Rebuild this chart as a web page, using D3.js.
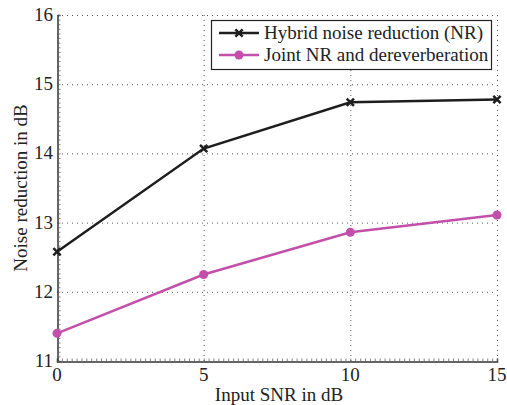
<!DOCTYPE html>
<html>
<head>
<meta charset="UTF-8">
<title>Noise reduction vs input SNR</title>
<script src="https://cdn.jsdelivr.net/npm/d3@7"></script>
<style>
* { margin: 0; padding: 0; }
body { background: #fff; }
#chart { display: block; }
text { font-family: "Liberation Serif", "DejaVu Serif", serif; fill: #222; }
</style>
</head>
<body>
<svg id="chart"></svg>
<script>
// values
const snr = [0, 5, 10, 15];
const hybridNR = [12.58, 14.07, 14.74, 14.78];
const jointNR = [11.40, 12.25, 12.86, 13.11];
const xTicks = [0, 5, 10, 15];
const yTicks = [11, 12, 13, 14, 15, 16];
const seriesNames = ["Hybrid noise reduction (NR)", "Joint NR and dereverberation"];
const seriesColors = ["#1e1e1e", "#c250aa"];

(function() {
    const width = 507, height = 405;
    const m = { left: 57, right: 10, top: 15, bottom: 44 };

    const svg = d3.select("#chart").attr("width", width).attr("height", height);

    const x = d3.scaleLinear().domain([0, 15]).range([m.left, width - m.right]);
    const y = d3.scaleLinear().domain([11, 16]).range([height - m.bottom, m.top]);

    // dotted grid
    const grid = svg.append("g")
        .style("stroke", "#555").style("stroke-width", 1).style("stroke-dasharray", "1,4");
    grid.selectAll(".gx").data(xTicks.filter(d => d > 0)).enter().append("line")
        .attr("x1", d => x(d) + 0.5).attr("x2", d => x(d) + 0.5)
        .attr("y1", y(16)).attr("y2", y(11));
    grid.selectAll(".gy").data(yTicks.filter(d => d > 11)).enter().append("line")
        .attr("x1", x(0)).attr("x2", x(15))
        .attr("y1", d => y(d) + 0.5).attr("y2", d => y(d) + 0.5);

    // minor ticks on left and bottom axes
    const minorX = d3.range(0, 15.001, 1 / 6);
    const minorY = d3.range(11, 16.001, 1 / 15);
    const xAxis = svg.append("g").attr("transform", `translate(0,${y(11) + 0.5})`)
        .call(d3.axisBottom(x).tickValues(minorX).tickSize(-3).tickFormat(""));
    const yAxis = svg.append("g").attr("transform", `translate(${x(0) + 0.5},0)`)
        .call(d3.axisLeft(y).tickValues(minorY).tickSize(-3).tickFormat(""));
    [xAxis, yAxis].forEach(a => {
        a.select(".domain").attr("stroke", "#333").attr("stroke-width", 1.5);
        a.selectAll(".tick line").attr("stroke", "#666").attr("stroke-width", 0.8);
    });

    // major tick labels
    svg.append("g").selectAll("text").data(xTicks).enter().append("text")
        .attr("x", d => x(d)).attr("y", y(11) + 20)
        .attr("text-anchor", "middle").style("font-size", "19px")
        .text(d => d);
    svg.append("g").selectAll("text").data(yTicks).enter().append("text")
        .attr("x", x(0) - 4).attr("y", d => y(d) + 6)
        .attr("text-anchor", "end").style("font-size", "19px")
        .text(d => d);

    // axis titles
    svg.append("text")
        .attr("x", 279).attr("y", 401)
        .attr("text-anchor", "middle").style("font-size", "19px")
        .text("Input SNR in dB");
    svg.append("text")
        .attr("transform", `translate(27,${(y(11) + y(16)) / 2}) rotate(-90)`)
        .attr("text-anchor", "middle").style("font-size", "19px")
        .text("Noise reduction in dB");

    const line = d3.line().x((d, i) => x(snr[i])).y(d => y(d));

    // joint NR series
    svg.append("path").datum(jointNR).attr("d", line)
        .attr("fill", "none").attr("stroke", seriesColors[1]).attr("stroke-width", 2.5);
    svg.append("g").selectAll("circle").data(jointNR).enter().append("circle")
        .attr("cx", (d, i) => x(snr[i])).attr("cy", d => y(d)).attr("r", 4.5)
        .attr("fill", seriesColors[1]);

    // hybrid NR series
    svg.append("path").datum(hybridNR).attr("d", line)
        .attr("fill", "none").attr("stroke", seriesColors[0]).attr("stroke-width", 2.5);
    const cross = d3.symbol().type(d3.symbolX).size(36);
    svg.append("g").selectAll("path").data(hybridNR).enter().append("path")
        .attr("d", cross)
        .attr("transform", (d, i) => `translate(${x(snr[i])},${y(d)})`)
        .attr("fill", "none").attr("stroke", seriesColors[0]).attr("stroke-width", 2.5);

    // legend
    const lg = svg.append("g").attr("transform", "translate(211,20)");
    lg.append("rect").attr("x", 0.5).attr("y", 0.5).attr("width", 280).attr("height", 49)
        .attr("fill", "#fff").attr("stroke", "#222").attr("stroke-width", 1.2);
    seriesNames.forEach((name, i) => {
        const yy = 13 + i * 22;
        lg.append("line").attr("x1", 8).attr("x2", 48).attr("y1", yy).attr("y2", yy)
            .attr("stroke", seriesColors[i]).attr("stroke-width", 2.5);
        if (i === 0) {
            lg.append("path").attr("d", cross).attr("transform", `translate(28,${yy})`)
                .attr("fill", "none").attr("stroke", seriesColors[i]).attr("stroke-width", 2.5);
        } else {
            lg.append("circle").attr("cx", 28).attr("cy", yy).attr("r", 4.5)
                .attr("fill", seriesColors[i]);
        }
        lg.append("text").attr("x", 53).attr("y", yy + 6)
            .style("font-size", "19px").text(name);
    });
})();
</script>
</body>
</html>
